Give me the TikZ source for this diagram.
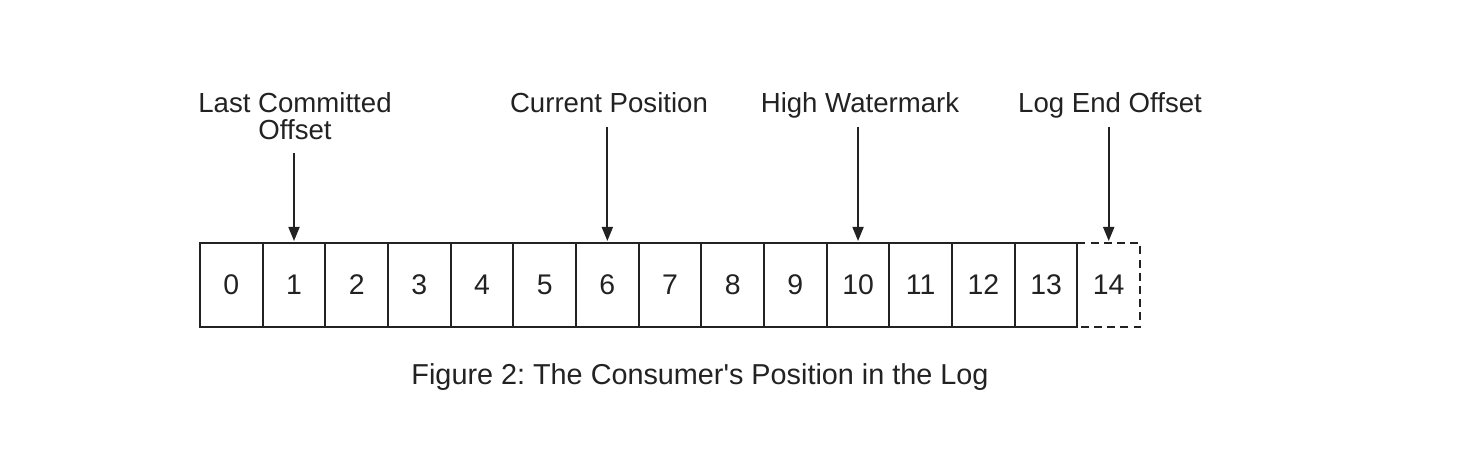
\documentclass[tikz,border=0pt]{standalone}
\usepackage{fontspec}
\setmainfont{Liberation Sans}[Ligatures=TeXOff]
\usetikzlibrary{arrows.meta}
\definecolor{ink}{HTML}{222222}
\frenchspacing
\begin{document}
\begin{tikzpicture}[x=0.5bp,y=-0.5bp,
  cell/.style={draw=ink,line width=0.9bp,minimum width=31.33bp,minimum height=42bp,
    inner sep=0pt,outer sep=0pt,text=ink,font=\fontsize{14.2bp}{16bp}\selectfont},
  lbl/.style={anchor=base,inner sep=0pt,text=ink,font=\fontsize{13.8bp}{16bp}\selectfont},
  arr/.style={draw=ink,line width=0.9bp,-{Triangle[width=5.5bp,length=7bp]},shorten >=1bp},
  captionstyle/.style={anchor=base,inner sep=0pt,text=ink,font=\fontsize{14.4bp}{16bp}\selectfont}]
\useasboundingbox (0,0) rectangle (1474,468);
\fill[white] (0,0) rectangle (1474,468);
\foreach \i in {0,...,13}{
  \node[cell] (c\i) at ({200+62.67*(\i+0.5)},285) {\i};
}
\node[cell,draw=none] (c14) at ({200+62.67*14.5},285) {14};
\draw[ink,line width=0.9bp,dash pattern=on 4bp off 2.6bp]
  (c14.north west) -- (c14.north east) -- (c14.south east) -- (c14.south west);
\node[lbl] (lc1) at (295,113) {Last Committed};
\node[lbl] (lc2) at (295,140) {Offset};
\node[lbl] (cp) at (609,113) {Current Position};
\node[lbl] (hw) at (860,113) {High Watermark};
\node[lbl] (le) at (1110,113) {Log End Offset};
\draw[arr] ([yshift=-6.5bp]lc2.base -| c1.north) -- (c1.north);
\draw[arr] ([yshift=-7bp]cp.base -| c6.north) -- (c6.north);
\draw[arr] ([yshift=-7bp]hw.base -| c10.north) -- (c10.north);
\draw[arr] ([yshift=-7bp]le.base -| c14.north) -- (c14.north);
\node[captionstyle] (caption) at (700,385) {Figure 2: The Consumer's Position in the Log};
\end{tikzpicture}
\end{document}
